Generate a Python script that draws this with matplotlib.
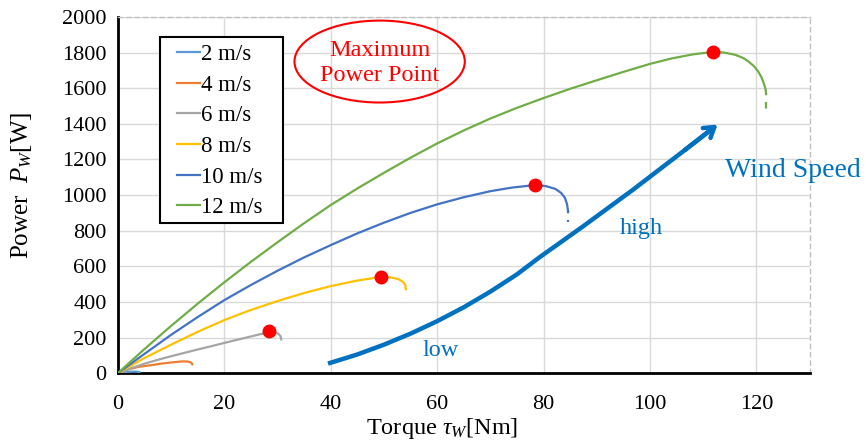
import matplotlib.pyplot as plt
from matplotlib.patches import Ellipse, Rectangle

plt.rcParams["font.family"] = ["Liberation Serif", "DejaVu Serif"]
plt.rcParams["mathtext.fontset"] = "custom"
plt.rcParams["mathtext.rm"] = "Liberation Serif"
plt.rcParams["mathtext.it"] = "Liberation Serif:italic"

LABELS = ["2 m/s", "4 m/s", "6 m/s", "8 m/s", "10 m/s", "12 m/s"]
COLORS = ["#5B9BD5", "#ED7D31", "#A5A5A5", "#FFC000", "#4472C4", "#70AD47"]

# values
TAU = [
    [0, 1, 2, 3, 3.8, 4.1],
    [0, 2, 4, 6.3, 8, 10, 12, 13, 13.6, 13.9, 14.0],
    [0, 2.5, 5, 7.5, 10, 12.5, 15, 17.5, 20, 22.5, 25, 26.9, 28.4, 29.5, 30.2, 30.6, 30.7],
    [0, 5, 10, 15, 20, 25, 30, 35, 40, 45, 49.5, 51.5, 52.8, 53.6, 54.0, 54.1],
    [0, 5, 10, 15, 20, 25, 30, 35, 40, 45, 50, 55, 60, 65, 70, 74, 78.3, 80.5, 82.2, 83.3,
     84.0, 84.4, 84.6],
    [0, 5, 10, 15, 20, 25, 30, 35, 40, 45, 50, 55, 60, 65, 70, 75, 80, 85, 90, 95, 100, 104,
     108, 112, 114, 116, 117.5, 118.5, 119.5, 120.3, 120.9, 121.4, 121.7, 121.8],
]
POWER = [
    [0, 5, 8, 9, 8, 5],
    [0, 22, 36, 45, 53, 60, 66, 66, 62, 56, 50],
    [0, 28, 53, 75, 95, 114, 133, 151, 170, 188, 206, 220, 229, 229, 221, 206, 190],
    [0, 85, 160, 232, 298, 355, 405, 450, 489, 520, 541, 537, 527, 512, 495, 476],
    [0, 108, 215, 315, 410, 495, 575, 650, 719, 785, 845, 900, 948, 988, 1022, 1042, 1056,
     1050, 1035, 1012, 985, 950, 910],
    [0, 135, 265, 390, 510, 625, 735, 842, 944, 1037, 1125, 1210, 1290, 1363, 1430, 1490,
     1545, 1597, 1645, 1692, 1737, 1767, 1790, 1805, 1800, 1788, 1770, 1750, 1725, 1695,
     1664, 1625, 1595, 1571],
]
# dashed tail under the end of some curves
TAIL_TAU = [None, None, None, 54.1, 84.6, 121.8]
TAIL_P = [None, None, None, (476, 425), (910, 850), (1571, 1459)]

MPP_TAU = [28.4, 49.5, 78.3, 111.8]
MPP_P = [236, 541, 1056, 1805]

ARROW_TAU = [39.5, 45, 50, 55, 60, 65, 70, 75, 79.2, 87.3, 96.7, 106.1, 111.0]
ARROW_P = [54, 105, 160, 222, 292, 370, 458, 555, 650, 822, 1028, 1243, 1356]
ARROW_TIP = (113.1, 1406)

fig, ax = plt.subplots(figsize=(8.66, 4.48), dpi=100)
fig.subplots_adjust(left=0.136, right=0.935, top=0.962, bottom=0.167)

for tau, p, lab, col, tt, tp in zip(TAU, POWER, LABELS, COLORS, TAIL_TAU, TAIL_P):
    ax.plot(tau, p, color=col, lw=1.6, label=lab, zorder=3)
    if tt is not None:
        ax.plot([tt, tt], tp, color=col, lw=1.6, ls=(2, (3, 3)), zorder=3)

ax.plot(MPP_TAU, MPP_P, "o", color="red", ms=9, zorder=5)

ac = "#0070C0"
ax.plot(ARROW_TAU, ARROW_P, color=ac, lw=3.2, solid_capstyle="butt", zorder=4)
ax.annotate("", xy=ARROW_TIP, xytext=(ARROW_TAU[-2], ARROW_P[-2]),
            arrowprops=dict(arrowstyle="->,head_length=0.7,head_width=0.45", color=ac, lw=3.2),
            zorder=4)

ax.text(126.8, 1140, "Wind Speed", color=ac, fontsize=20, ha="center", va="center", clip_on=False)
ax.text(98.3, 815, "high", color=ac, fontsize=17.5, ha="center", va="center")
ax.text(60.7, 129, "low", color=ac, fontsize=17.5, ha="center", va="center")

ax.add_patch(Ellipse((49.2, 1750), 32, 460, fill=False, edgecolor="red", lw=1.5, zorder=4))
ax.text(49.2, 1742, "Maximum\nPower Point", color="red", fontsize=17.5, ha="center", va="center",
        linespacing=1.3, zorder=4)

ax.set_xlim(0, 130)
ax.set_ylim(0, 2000)
ax.set_xticks(range(0, 121, 20))
ax.set_yticks(range(0, 2001, 200))
ax.grid(True, color="#D9D9D9", lw=1)
ax.set_axisbelow(True)
ax.tick_params(length=0, labelsize=16)
ax.tick_params(axis="x", pad=16)
ax.tick_params(axis="y", pad=8)

for side in ["left", "bottom"]:
    ax.spines[side].set_linewidth(2)
    ax.spines[side].set_color("black")
for side in ["top", "right"]:
    ax.spines[side].set_linestyle((0, (3, 3)))
    ax.spines[side].set_color("#BFBFBF")
    ax.spines[side].set_linewidth(1)

ax.set_xlabel(r"Torque $\tau_W$[Nm]", fontsize=17.5, va="center")
ax.xaxis.set_label_coords(0.469, -0.156)
ax.set_ylabel(r"Power  $P_W$[W]", fontsize=18, va="center")
ax.yaxis.set_label_coords(-0.139, 0.528)

leg = ax.legend(loc="upper left", bbox_to_anchor=(0.0853, 0.924), borderaxespad=0,
                fontsize=16.5, handlelength=1.0, handletextpad=0.05, labelspacing=0.42,
                frameon=False, borderpad=0)
ax.add_patch(Rectangle((0.0607, 0.4213), 0.1777, 0.5225, transform=ax.transAxes,
                       fill=True, facecolor="white", edgecolor="black", lw=1.5, zorder=6))
leg.set_zorder(7)

fig.savefig("out.png", dpi=100)
